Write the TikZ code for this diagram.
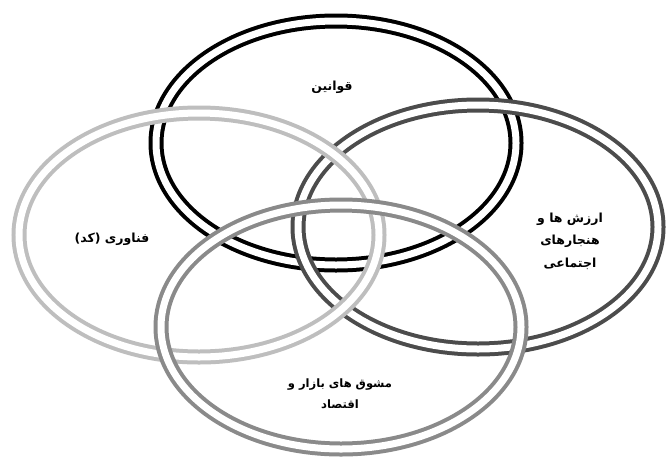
\documentclass[tikz,border=0pt]{standalone}
\usepackage{fontspec}
\TeXXeTstate=1
\newfontfamily\arabicfont[Script=Arabic]{DejaVu Sans}
\definecolor{ringlight}{HTML}{BEBEBE}
\definecolor{ringmid}{HTML}{8A8A8A}
\definecolor{ringdark}{HTML}{4C4C4C}
\begin{document}
\begin{tikzpicture}[x=1pt,y=-1pt,
  ring/.style={double=white, line width=4pt, double distance=7pt},
  lbl/.style={font=\arabicfont\bfseries\fontsize{12.5}{22.5}\selectfont, align=center, inner sep=0pt},
  lblsmall/.style={lbl, font=\arabicfont\bfseries\fontsize{11.5}{21}\selectfont}]
\useasboundingbox[fill=white] (0,0) rectangle (668,461);
\draw[ring, draw=black] (336,143) ellipse [x radius=180pt, y radius=122pt];
\draw[ring, draw=ringdark] (478,227) ellipse [x radius=180pt, y radius=122pt];
\draw[ring, draw=ringlight] (199,235) ellipse [x radius=180pt, y radius=122pt];
\draw[ring, draw=ringmid] (341,327) ellipse [x radius=180pt, y radius=122pt];
\node[lbl] (law) at (332,87) {\beginR قوانین\endR};
\node[lbl] (tech) at (112,239) {\beginR فناوری (کد)\endR};
\node[lbl] (norms) at (570,241) {\beginR ارزش ها و\endR\\\beginR هنجارهای\endR\\\beginR اجتماعی\endR};
\node[lblsmall] (market) at (340,394) {\beginR مشوق های بازار و\endR\\\beginR اقتصاد\endR};
\end{tikzpicture}
\end{document}
